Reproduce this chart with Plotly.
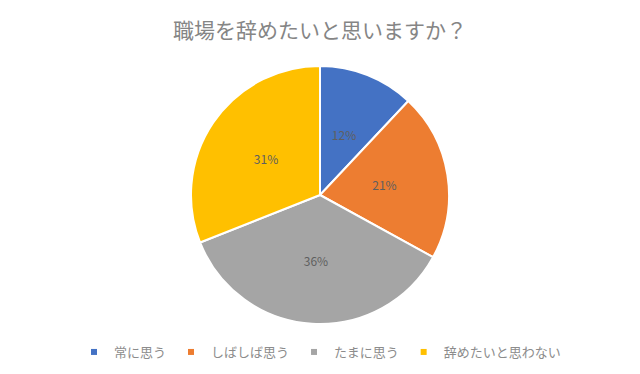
import plotly.graph_objects as go

categories = ["常に思う", "しばしば思う", "たまに思う", "辞めたいと思わない"]
values = [12, 21, 36, 31]
colors = ["#4472C4", "#ED7D31", "#A5A5A5", "#FFC000"]
title_text = "職場を辞めたいと思いますか？"

W, H = 640, 374
cx, cy, R = 320, 195, 129
r_lab = 87

def dom(r):
    return dict(x=[(cx - r) / W, (cx + r) / W],
                y=[(H - cy - r) / H, (H - cy + r) / H])

fig = go.Figure()
fig.add_trace(go.Pie(
    labels=categories,
    values=values,
    sort=False,
    direction="clockwise",
    rotation=0,
    marker=dict(colors=colors, line=dict(color="white", width=2)),
    textinfo="none",
    domain=dom(R),
    showlegend=False,
    hoverinfo="label+percent",
))
# transparent helper ring that only carries the percentage labels
fig.add_trace(go.Pie(
    labels=categories,
    values=values,
    sort=False,
    direction="clockwise",
    rotation=0,
    hole=0.5,
    marker=dict(colors=["rgba(0,0,0,0)"] * 4, line=dict(width=0)),
    texttemplate="%{percent:.0%}",
    textposition="inside",
    insidetextorientation="horizontal",
    insidetextfont=dict(color="#5f5f5f", size=12, family="Noto Sans CJK JP"),
    domain=dom(r_lab),
    showlegend=False,
    hoverinfo="skip",
))
# legend entries with small square markers
for name, col in zip(categories, colors):
    fig.add_trace(go.Scatter(
        x=[None], y=[None], mode="markers", name=name,
        marker=dict(symbol="square", size=6, color=col),
        hoverinfo="skip",
    ))

fig.update_layout(
    width=W, height=H,
    margin=dict(l=0, r=0, t=0, b=0),
    paper_bgcolor="white",
    plot_bgcolor="white",
    font=dict(family="Noto Sans CJK JP", color="#8c8c8c"),
    xaxis=dict(visible=False),
    yaxis=dict(visible=False),
    title=dict(text=title_text, x=0.5, xanchor="center", y=1 - 31 / H, yanchor="middle",
               font=dict(size=21, color="#858585", family="Noto Sans CJK JP")),
    legend=dict(orientation="h", x=0.5, xanchor="center", y=1 - 352 / H, yanchor="middle",
                font=dict(size=13, color="#8c8c8c"), itemwidth=30, bgcolor="rgba(0,0,0,0)"),
    showlegend=True,
)

fig.write_html("out.html", config={"displayModeBar": False},
               post_script="document.body.style.margin='0';")
